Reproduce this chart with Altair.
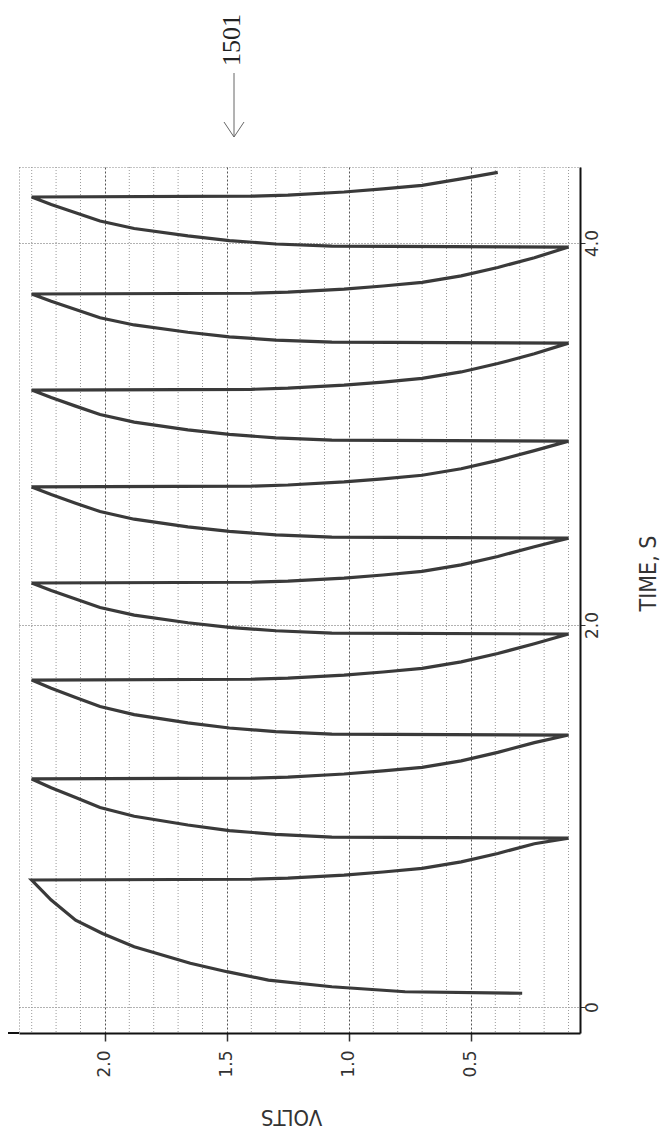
import altair as alt
import pandas as pd

# ---- data (time in s, volts) ----
time_s = [
    # first charge from start
    0.072, 0.080, 0.106, 0.141, 0.185, 0.229, 0.316, 0.385, 0.455, 0.560, 0.665,
    # drop 1 / rise 1
    0.669, 0.675, 0.691, 0.707, 0.726, 0.760, 0.804, 0.855, 0.884,
    0.890, 0.904, 0.924, 0.953, 0.999, 1.045, 1.097, 1.148, 1.194,
    # drop 2 / rise 2
    1.198, 1.204, 1.220, 1.236, 1.255, 1.289, 1.333, 1.384, 1.424,
    1.429, 1.442, 1.461, 1.488, 1.531, 1.573, 1.621, 1.669, 1.712,
    # drop 3 / rise 3
    1.716, 1.722, 1.738, 1.754, 1.773, 1.807, 1.851, 1.902, 1.953,
    1.958, 1.970, 1.988, 2.012, 2.052, 2.092, 2.136, 2.181, 2.220,
    # drop 4 / rise 4
    2.224, 2.230, 2.246, 2.262, 2.281, 2.315, 2.359, 2.410, 2.455,
    2.460, 2.472, 2.490, 2.514, 2.554, 2.594, 2.638, 2.683, 2.723,
    # drop 5 / rise 5
    2.727, 2.733, 2.749, 2.765, 2.784, 2.818, 2.862, 2.913, 2.963,
    2.968, 2.980, 2.998, 3.022, 3.062, 3.102, 3.146, 3.191, 3.230,
    # drop 6 / rise 6
    3.234, 3.240, 3.256, 3.272, 3.291, 3.325, 3.369, 3.420, 3.476,
    3.481, 3.492, 3.509, 3.533, 3.571, 3.609, 3.652, 3.695, 3.733,
    # drop 7 / rise 7
    3.737, 3.743, 3.759, 3.775, 3.794, 3.828, 3.872, 3.923, 3.979,
    3.984, 3.995, 4.013, 4.037, 4.076, 4.115, 4.158, 4.202, 4.241,
    # last drop (cut at the top of the plot)
    4.245, 4.251, 4.267, 4.283, 4.302, 4.336, 4.370,
]
volts = [
    0.29, 0.77, 1.07, 1.33, 1.50, 1.65, 1.88, 2.01, 2.12, 2.22, 2.30,
    1.40, 1.25, 1.02, 0.86, 0.70, 0.54, 0.39, 0.24, 0.10,
    1.07, 1.30, 1.49, 1.66, 1.88, 2.02, 2.12, 2.22, 2.30,
    1.40, 1.25, 1.02, 0.86, 0.70, 0.54, 0.39, 0.24, 0.10,
    1.07, 1.30, 1.49, 1.66, 1.88, 2.02, 2.12, 2.22, 2.30,
    1.40, 1.25, 1.02, 0.86, 0.70, 0.54, 0.39, 0.24, 0.10,
    1.07, 1.30, 1.49, 1.66, 1.88, 2.02, 2.12, 2.22, 2.30,
    1.40, 1.25, 1.02, 0.86, 0.70, 0.54, 0.39, 0.24, 0.10,
    1.07, 1.30, 1.49, 1.66, 1.88, 2.02, 2.12, 2.22, 2.30,
    1.40, 1.25, 1.02, 0.86, 0.70, 0.54, 0.39, 0.24, 0.10,
    1.07, 1.30, 1.49, 1.66, 1.88, 2.02, 2.12, 2.22, 2.30,
    1.40, 1.25, 1.02, 0.86, 0.70, 0.54, 0.39, 0.24, 0.10,
    1.07, 1.30, 1.49, 1.66, 1.88, 2.02, 2.12, 2.22, 2.30,
    1.40, 1.25, 1.02, 0.86, 0.70, 0.54, 0.39, 0.24, 0.10,
    1.07, 1.30, 1.49, 1.66, 1.88, 2.02, 2.12, 2.22, 2.30,
    1.40, 1.25, 1.02, 0.86, 0.70, 0.54, 0.39,
]
volt_ticks = [0.5, 1.0, 1.5, 2.0]
volt_minor_grid = [0.1, 0.2, 0.3, 0.4, 0.6, 0.7, 0.8, 0.9, 1.1, 1.2, 1.3, 1.4,
                   1.6, 1.7, 1.8, 1.9, 2.1, 2.2, 2.3]
time_ticks = [0, 2, 4]
ref_label = "1501"

df = pd.DataFrame({"i": list(range(len(time_s))), "t": time_s, "v": volts})
grid_df = pd.DataFrame({"g": volt_minor_grid})
one = pd.DataFrame({"k": [0]})

xscale = alt.Scale(domain=[0.053, 2.352], reverse=True, nice=False, zero=False)
yscale = alt.Scale(domain=[-0.136, 4.398], nice=False, zero=False)

TITLE_FONT = "Liberation Sans Narrow, DejaVu Sans Condensed, Liberation Sans"

x_axis = alt.Axis(values=volt_ticks, format=".1f", orient="bottom",
                  labelAngle=270, labelAlign="right", labelBaseline="middle",
                  labelFont="DejaVu Sans", labelFontSize=17, labelColor="#333",
                  tickSize=8, labelPadding=9, tickColor="#333", tickWidth=1.5,
                  grid=True, gridColor="#555", gridDash=[2, 2], gridWidth=1,
                  domainColor="#111", domainWidth=2,
                  title="VOLTS", titleAngle=180, titleFont=TITLE_FONT,
                  titleFontSize=22, titleFontWeight="normal", titleColor="#333",
                  titleX=272, titleY=83, titleBaseline="middle", titleAlign="center")

y_axis = alt.Axis(values=time_ticks, orient="right",
                  labelExpr="datum.value == 0 ? '0' : format(datum.value, '.1f')",
                  labelAngle=270, labelAlign="center", labelBaseline="middle",
                  labelFont="DejaVu Sans", labelFontSize=17, labelColor="#333",
                  tickSize=5, labelPadding=7, tickColor="#333",
                  grid=True, gridColor="#666", gridDash=[1, 2], gridWidth=1.2,
                  domainColor="#111", domainWidth=2,
                  title="TIME, S", titleAngle=270, titleFont=TITLE_FONT,
                  titleFontSize=23, titleFontWeight="normal", titleColor="#333",
                  titleX=68, titleY=406, titleBaseline="middle", titleAlign="center")

minor = alt.Chart(grid_df).mark_rule(color="#9a9a9a", strokeDash=[1, 2], strokeWidth=1).encode(
    x=alt.X("g:Q", scale=xscale, axis=x_axis)
)

line = alt.Chart(df).mark_line(color="#3a3a3a", strokeWidth=3.2).encode(
    x=alt.X("v:Q", scale=xscale, axis=x_axis),
    y=alt.Y("t:Q", scale=yscale, axis=y_axis),
    order=alt.Order("i:Q"),
)

label = alt.Chart(one).mark_text(
    text=ref_label, angle=270, font="Liberation Serif, DejaVu Serif, serif", fontSize=26,
    color="#222", align="center", baseline="middle"
).encode(x=alt.value(213), y=alt.value(-127))

arrow_shaft = alt.Chart(one).mark_rule(color="#666", strokeWidth=1).encode(
    x=alt.value(215), x2=alt.value(215), y=alt.value(-94), y2=alt.value(-30))
arrow_l = alt.Chart(one).mark_rule(color="#666", strokeWidth=1).encode(
    x=alt.value(205), x2=alt.value(215), y=alt.value(-45), y2=alt.value(-30))
arrow_r = alt.Chart(one).mark_rule(color="#666", strokeWidth=1).encode(
    x=alt.value(225), x2=alt.value(215), y=alt.value(-45), y2=alt.value(-30))
axis_ext = alt.Chart(one).mark_rule(color="#111", strokeWidth=2).encode(
    x=alt.value(-16), x2=alt.value(0), y=alt.value(866), y2=alt.value(866))

chart = alt.layer(minor, line, label, arrow_shaft, arrow_l, arrow_r, axis_ext).properties(
    width=561, height=866,
    autosize=alt.AutoSizeParams(type="none"),
    padding={"left": 11, "top": 159, "right": 82, "bottom": 97},
    background="white",
).configure_view(stroke="#888", strokeDash=[1, 2], strokeWidth=1)

chart.save("out.html", embed_options={"renderer": "svg", "actions": False})
